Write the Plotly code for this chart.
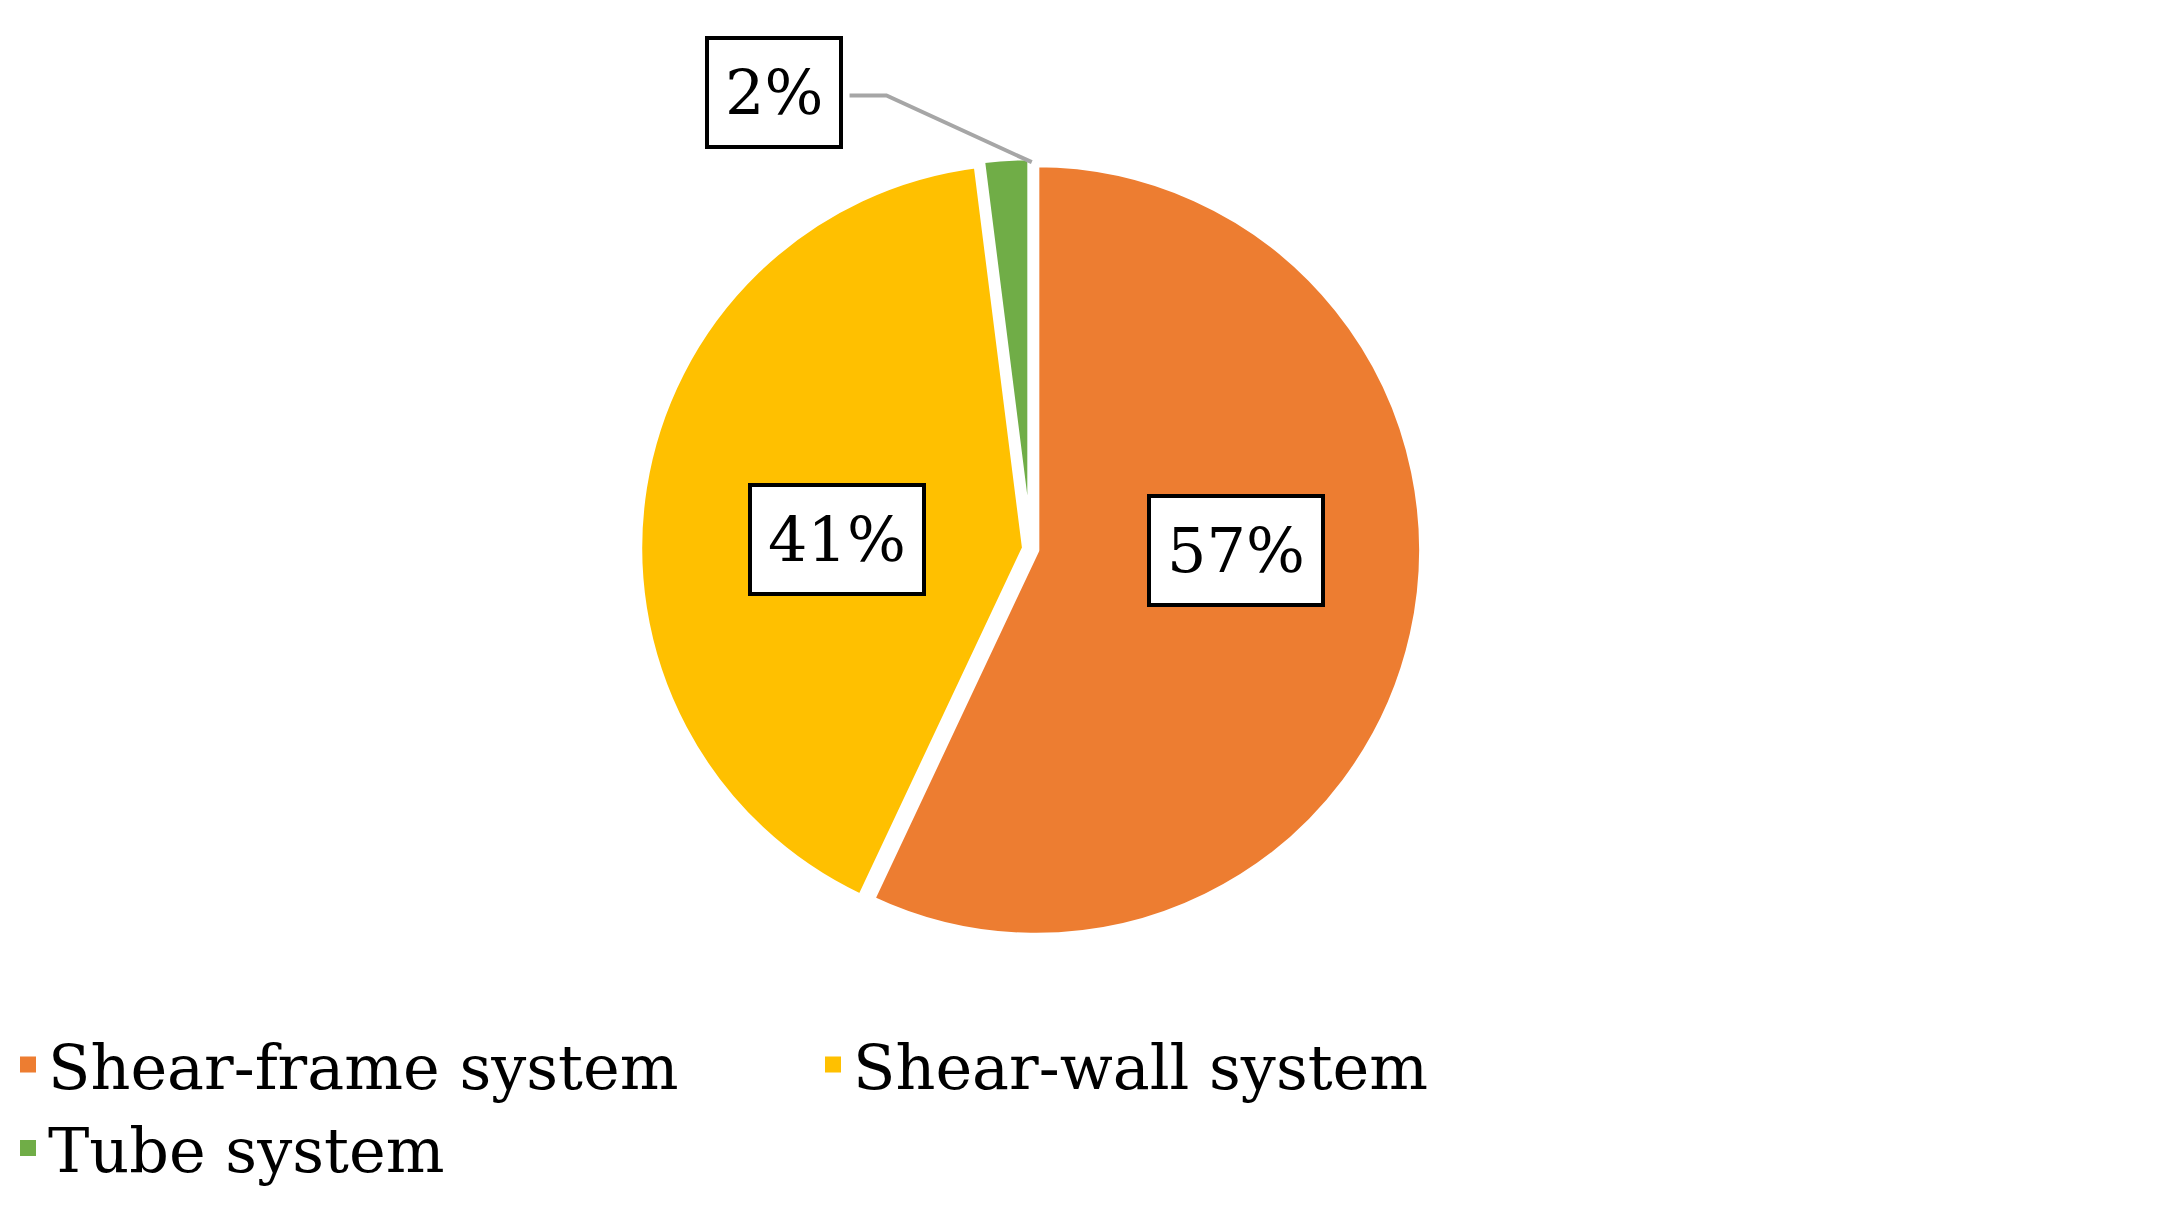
import plotly.graph_objects as go

labels = ["Shear-frame system", "Shear-wall system", "Tube system"]
values = [57, 41, 2]
pct_text = ["57%", "41%", "2%"]
colors = ["#ED7D31", "#FFC000", "#70AD47"]

fig = go.Figure(go.Pie(
    labels=labels, values=values, sort=False, direction="clockwise", rotation=0,
    marker=dict(colors=colors, line=dict(color="white", width=6)),
    textinfo="none", hoverinfo="label+percent", pull=[0.015, 0.015, 0.015],
    domain=dict(x=[0.19, 0.753], y=[0.232, 0.877]), showlegend=False,
))
for lab, c in zip(labels, colors):
    fig.add_trace(go.Scatter(x=[None], y=[None], mode="markers", name=lab,
                             marker=dict(symbol="square", size=30, color=c)))

font_lbl = dict(family="DejaVu Serif, Liberation Serif, serif", size=62, color="black")
pos = [(0.566, 0.553, "middle"), (0.382, 0.562, "middle"), (0.353, 0.977, "top")]
for t, (x, y, ya) in zip(pct_text, pos):
    fig.add_annotation(x=x, y=y, xref="paper", yref="paper", yanchor=ya, text=t,
                       showarrow=False, font=font_lbl, bordercolor="black",
                       borderwidth=4, borderpad=16, bgcolor="white")
fig.add_shape(type="path", xref="paper", yref="paper",
              path="M 0.388 0.928 L 0.405 0.928 L 0.472 0.873",
              line=dict(color="#A6A6A6", width=4))

fig.update_layout(
    width=2169, height=1214, paper_bgcolor="white", plot_bgcolor="white",
    margin=dict(l=0, r=0, t=0, b=0),
    xaxis=dict(visible=False), yaxis=dict(visible=False),
    legend=dict(orientation="h", x=0.0, xanchor="left", y=0.095, yanchor="middle",
                font=dict(family="DejaVu Serif, Liberation Serif, serif", size=62, color="black"),
                entrywidth=760, entrywidthmode="pixels"),
)
fig.write_html("out.html")
